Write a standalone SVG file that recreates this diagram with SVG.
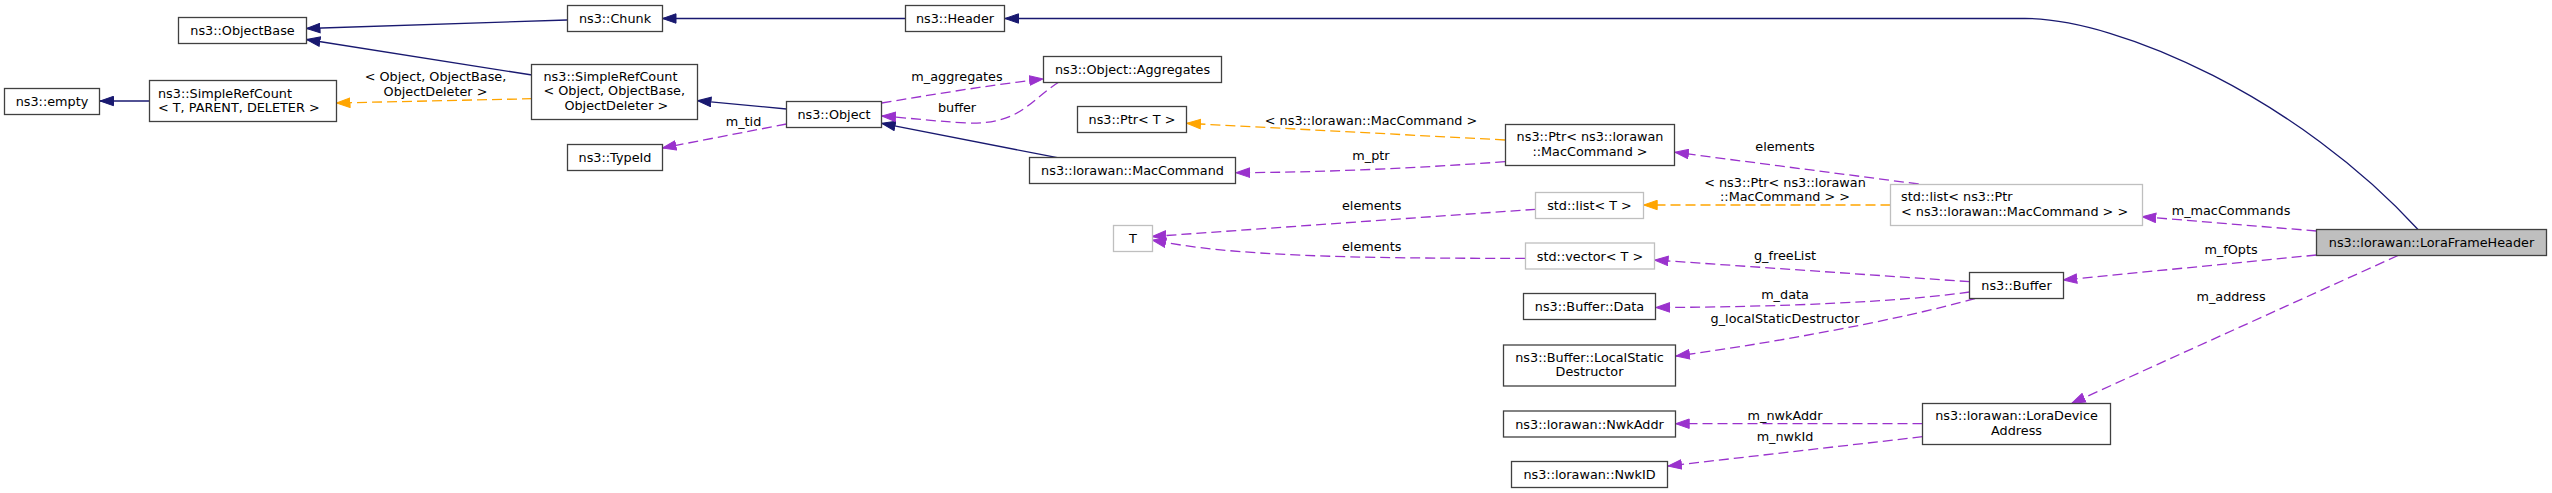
<svg xmlns="http://www.w3.org/2000/svg" width="2552" height="493" viewBox="0 0 2552 493">
<style>
  text { font-family: "DejaVu Sans", "Liberation Sans", sans-serif; font-size: 12.8px; fill: #000; }
  .n rect { fill: #fff; stroke: #404040; stroke-width: 1.3; }
  .n.l rect { stroke: #bfbfbf; }
  .n.m rect { fill: #bfbfbf; }
  .n text { text-anchor: middle; }
  .e path { fill: none; stroke-width: 1.3; }
  .inh { stroke: #191970; marker-end: url(#aN); }
  .use { stroke: #9a32cd; stroke-dasharray: 10,5; marker-end: url(#aP); }
  .tpl { stroke: #ffa500; stroke-dasharray: 10,5; marker-end: url(#aO); }
  .lbl { text-anchor: middle; }
</style>
<defs>
  <marker id="aN" markerUnits="userSpaceOnUse" markerWidth="15" markerHeight="11" viewBox="0 0 15 11" refX="14" refY="5.5" orient="auto">
    <path d="M0.5,0.8 L14,5.5 L0.5,10.2 Z" fill="#191970" stroke="#191970" stroke-width="1"/>
  </marker>
  <marker id="aP" markerUnits="userSpaceOnUse" markerWidth="15" markerHeight="11" viewBox="0 0 15 11" refX="14" refY="5.5" orient="auto">
    <path d="M0.5,0.8 L14,5.5 L0.5,10.2 Z" fill="#9a32cd" stroke="#9a32cd" stroke-width="1"/>
  </marker>
  <marker id="aO" markerUnits="userSpaceOnUse" markerWidth="15" markerHeight="11" viewBox="0 0 15 11" refX="14" refY="5.5" orient="auto">
    <path d="M0.5,0.8 L14,5.5 L0.5,10.2 Z" fill="#ffa500" stroke="#ffa500" stroke-width="1"/>
  </marker>
</defs>
<rect x="0" y="0" width="2552" height="493" fill="#fff"/>

<g id="edges" class="e">
  <path class="inh" d="M567,20 L306.5,28.5"/>
  <path class="inh" d="M532,75 L306.5,39.5"/>
  <path class="inh" d="M149,101 L100,101"/>
  <path class="inh" d="M786.5,109 L697.5,100.7"/>
  <path class="inh" d="M1057.4,157.7 L881.7,123.3"/>
  <path class="inh" d="M905,18.5 L662.5,18.5"/>
  <path class="inh" d="M2418,229.5 C2300,100 2120,18.5 2025,18.5 L1005,18.5"/>

  <path class="tpl" d="M532,98.7 L336.5,103"/>
  <path class="tpl" d="M1505,140 L1187,123.3"/>
  <path class="tpl" d="M1890.5,205 L1643.7,205"/>

  <path class="use" d="M786.5,124 L662.5,148"/>
  <path class="use" d="M881.7,103 C930,95 990,85 1043,79"/>
  <path class="use" d="M1059,82 C1030,100 1020,125 967,123 C930,121 900,117 882,116"/>
  <path class="use" d="M1505,161.7 C1420,168 1320,172.5 1236,172.7"/>
  <path class="use" d="M1918.7,184 L1675,152.3"/>
  <path class="use" d="M1535.5,209.3 L1152.3,236.5"/>
  <path class="use" d="M1525.3,258.3 C1350,258.5 1230,256 1152.3,240"/>
  <path class="use" d="M1969.7,281.7 L1654.6,260"/>
  <path class="use" d="M1969.5,292 C1900,302 1780,307 1656,307.5"/>
  <path class="use" d="M1975,298.5 C1900,320 1760,345 1676,356"/>
  <path class="use" d="M2316.5,231 L2142.3,216.7"/>
  <path class="use" d="M2316.5,255 L2063.3,280"/>
  <path class="use" d="M2398,255.5 L2071.7,403.3"/>
  <path class="use" d="M1922.5,423.7 L1675.7,423.7"/>
  <path class="use" d="M1922.5,436.7 L1668,466"/>

  <g class="lbl">
    <text class="lbl" x="435.5" y="81.2">&lt; Object, ObjectBase,</text>
    <text class="lbl" x="435.5" y="95.5">ObjectDeleter &gt;</text>
    <text class="lbl" x="743.5" y="125.5">m_tid</text>
    <text class="lbl" x="957" y="80.5">m_aggregates</text>
    <text class="lbl" x="957" y="112.2">buffer</text>
    <text class="lbl" x="1371" y="124.5">&lt; ns3::lorawan::MacCommand &gt;</text>
    <text class="lbl" x="1371" y="160.2">m_ptr</text>
    <text class="lbl" x="1785" y="151.2">elements</text>
    <text class="lbl" x="1785" y="187.2">&lt; ns3::Ptr&lt; ns3::lorawan</text>
    <text class="lbl" x="1785" y="201.2">::MacCommand &gt; &gt;</text>
    <text class="lbl" x="1371.7" y="209.5">elements</text>
    <text class="lbl" x="1371.7" y="251.2">elements</text>
    <text class="lbl" x="1785" y="259.5">g_freeList</text>
    <text class="lbl" x="1785" y="298.8">m_data</text>
    <text class="lbl" x="1785" y="322.8">g_localStaticDestructor</text>
    <text class="lbl" x="2231" y="215.2">m_macCommands</text>
    <text class="lbl" x="2231" y="253.5">m_fOpts</text>
    <text class="lbl" x="2231" y="301.2">m_address</text>
    <text class="lbl" x="1785" y="420.2">m_nwkAddr</text>
    <text class="lbl" x="1785" y="440.5">m_nwkId</text>
  </g>
</g>

<g id="n_empty" class="n"><rect x="4.5" y="88.5" width="95" height="26"/><text x="52" y="106">ns3::empty</text></g>
<g id="n_src_t" class="n"><rect x="149.5" y="80.5" width="187" height="41"/>
  <text x="158" y="97.5" style="text-anchor:start">ns3::SimpleRefCount</text>
  <text x="158" y="112" style="text-anchor:start">&lt; T, PARENT, DELETER &gt;</text></g>
<g id="n_objectbase" class="n"><rect x="178.5" y="17.5" width="128" height="26"/><text x="242.5" y="35">ns3::ObjectBase</text></g>
<g id="n_chunk" class="n"><rect x="567.5" y="5.5" width="95" height="26"/><text x="615" y="23">ns3::Chunk</text></g>
<g id="n_header" class="n"><rect x="905.5" y="5.5" width="99" height="26"/><text x="955" y="23">ns3::Header</text></g>
<g id="n_src_obj" class="n"><rect x="531.5" y="64.5" width="166" height="55"/>
  <text x="543.5" y="80.5" style="text-anchor:start">ns3::SimpleRefCount</text>
  <text x="543.5" y="95.2" style="text-anchor:start">&lt; Object, ObjectBase,</text>
  <text x="616.3" y="109.5">ObjectDeleter &gt;</text></g>
<g id="n_typeid" class="n"><rect x="567.5" y="144.5" width="95" height="26"/><text x="615" y="162">ns3::TypeId</text></g>
<g id="n_object" class="n"><rect x="786.5" y="101.5" width="95" height="26"/><text x="834" y="119">ns3::Object</text></g>
<g id="n_aggregates" class="n"><rect x="1043.5" y="56.5" width="178" height="26"/><text x="1132.5" y="74">ns3::Object::Aggregates</text></g>
<g id="n_ptr_t" class="n"><rect x="1077.5" y="106.5" width="109" height="26"/><text x="1132" y="124">ns3::Ptr&lt; T &gt;</text></g>
<g id="n_maccommand" class="n"><rect x="1029.5" y="157.5" width="206" height="26"/><text x="1132.5" y="175">ns3::lorawan::MacCommand</text></g>
<g id="n_ptr_mac" class="n"><rect x="1505.5" y="124.5" width="169" height="41"/>
  <text x="1590" y="141.2">ns3::Ptr&lt; ns3::lorawan</text>
  <text x="1590" y="156">::MacCommand &gt;</text></g>
<g id="n_list_t" class="n l"><rect x="1535.5" y="192.5" width="108" height="26"/><text x="1589.5" y="210">std::list&lt; T &gt;</text></g>
<g id="n_T" class="n l"><rect x="1113.5" y="225.5" width="39" height="26"/><text x="1133" y="243">T</text></g>
<g id="n_vector_t" class="n l"><rect x="1525.5" y="243" width="129" height="26"/><text x="1590" y="260.5">std::vector&lt; T &gt;</text></g>
<g id="n_buffer_data" class="n"><rect x="1523.5" y="293.5" width="132" height="26"/><text x="1589.5" y="311">ns3::Buffer::Data</text></g>
<g id="n_localstatic" class="n"><rect x="1503.5" y="345" width="172" height="41"/>
  <text x="1589.5" y="361.8">ns3::Buffer::LocalStatic</text>
  <text x="1589.5" y="376.3">Destructor</text></g>
<g id="n_nwkaddr" class="n"><rect x="1503.5" y="411" width="172" height="26"/><text x="1589.5" y="428.5">ns3::lorawan::NwkAddr</text></g>
<g id="n_nwkid" class="n"><rect x="1511.5" y="461.5" width="156" height="26"/><text x="1589.5" y="479">ns3::lorawan::NwkID</text></g>
<g id="n_list_ptr" class="n l"><rect x="1890.5" y="184.5" width="252" height="41"/>
  <text x="1901" y="201.2" style="text-anchor:start">std::list&lt; ns3::Ptr</text>
  <text x="1901" y="215.7" style="text-anchor:start">&lt; ns3::lorawan::MacCommand &gt; &gt;</text></g>
<g id="n_buffer" class="n"><rect x="1969.5" y="272.5" width="94" height="26"/><text x="2016.5" y="290">ns3::Buffer</text></g>
<g id="n_loradeviceaddress" class="n"><rect x="1922.5" y="403.5" width="188" height="41"/>
  <text x="2016.5" y="420.2">ns3::lorawan::LoraDevice</text>
  <text x="2016.5" y="434.8">Address</text></g>
<g id="n_loraframeheader" class="n m"><rect x="2316.5" y="229.5" width="230" height="26"/><text x="2431.5" y="246.5">ns3::lorawan::LoraFrameHeader</text></g>
</svg>
